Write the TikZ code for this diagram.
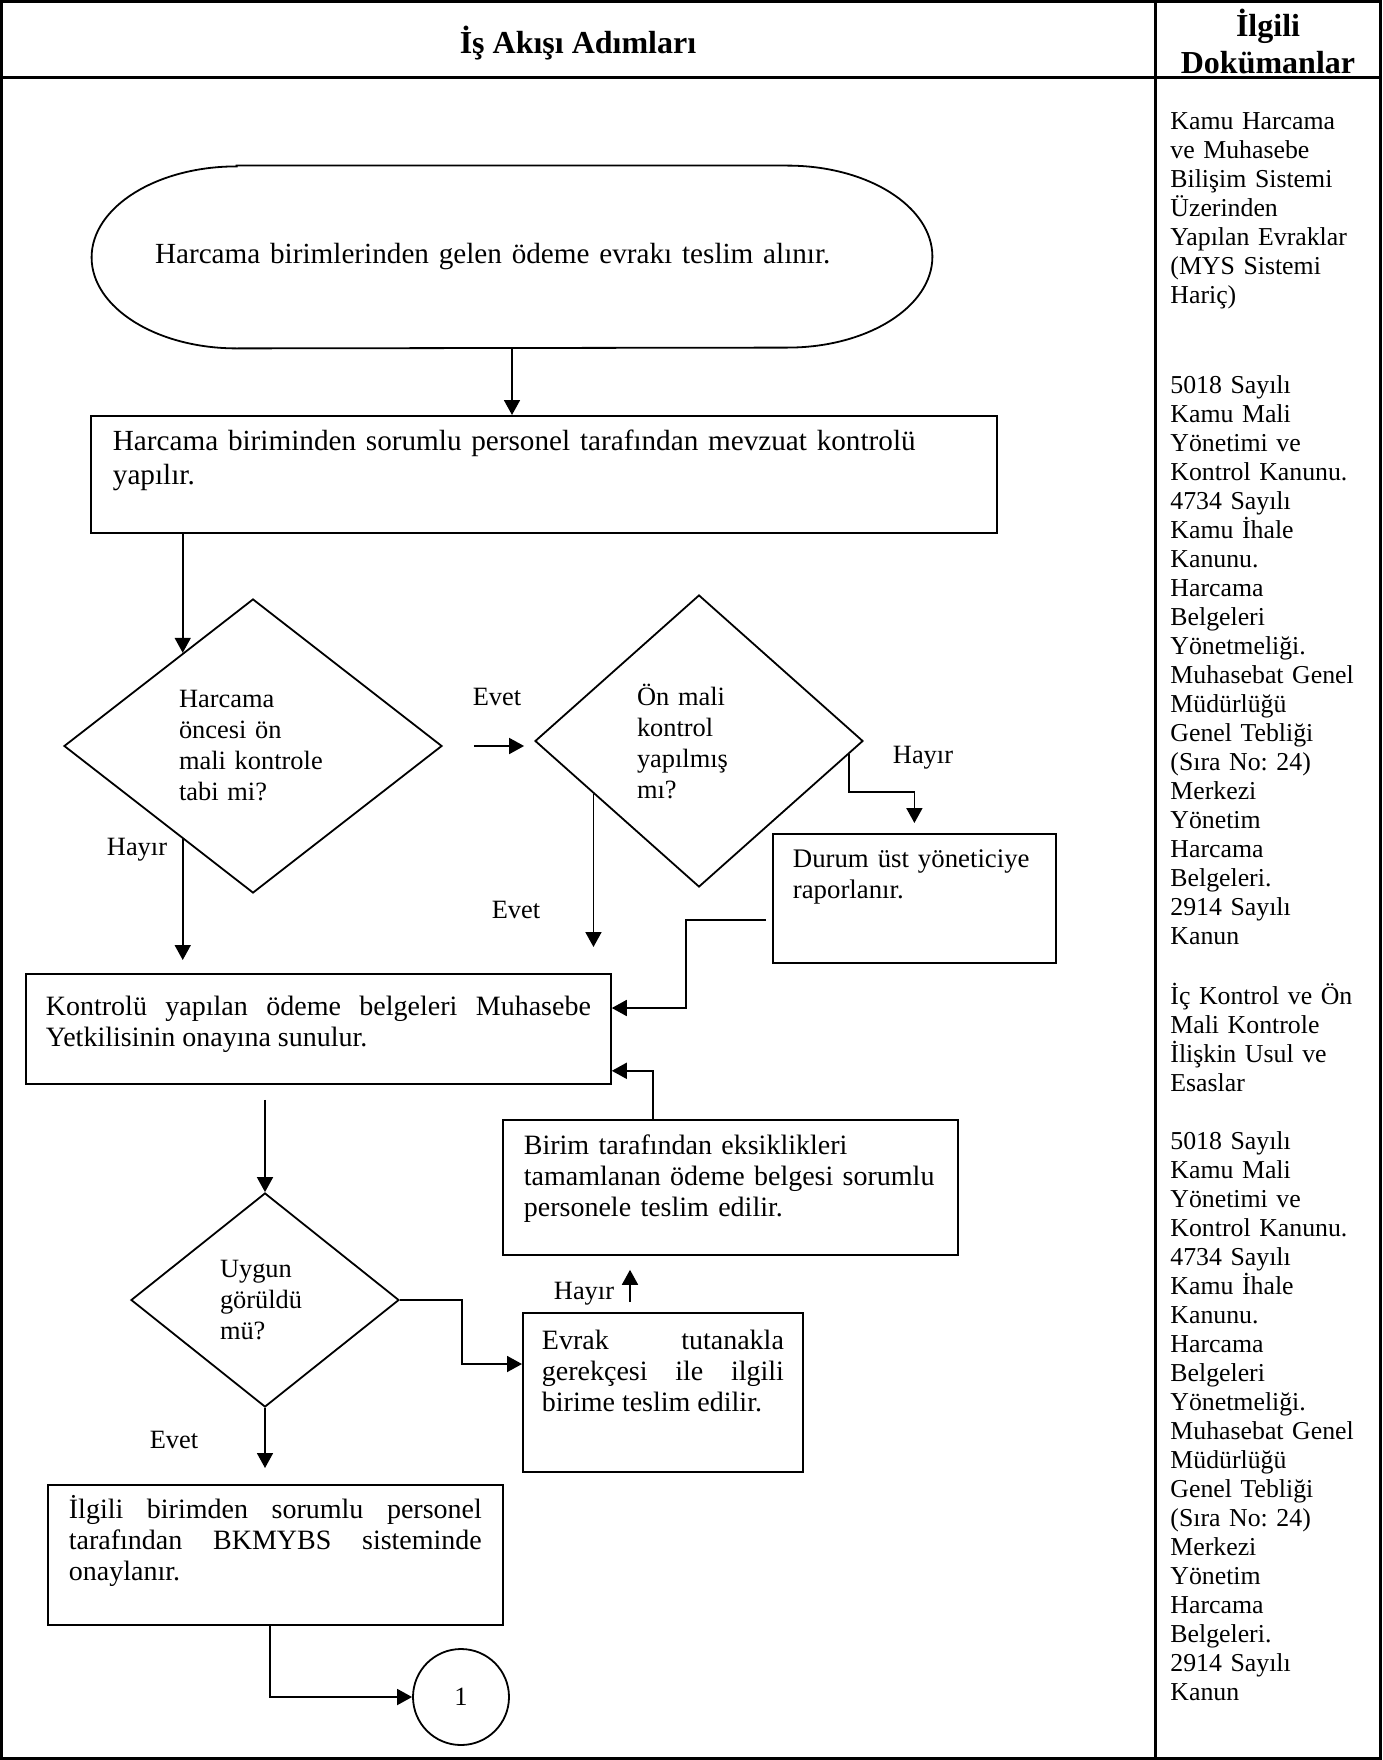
\documentclass[tikz,border=0pt]{standalone}
\usepackage{fontspec}
\setmainfont{Liberation Serif}
\usetikzlibrary{shapes.geometric,arrows.meta,positioning,calc}
\frenchspacing

\begin{document}
\begin{tikzpicture}[x=0.5pt, y=-0.5pt, every node/.style={font=\fontsize{13.2}{15.5}\selectfont},
	kutu/.style={draw, line width=0.9pt, rectangle, anchor=north west, inner xsep=10.5pt, inner ysep=0pt, font=\fontsize{14}{15.5}\selectfont},
	karar/.style={draw, line width=0.9pt, diamond, inner sep=0pt, align=left},
	belge/.style={anchor=base west, inner sep=0pt, text width=104pt, align=left, font=\fontsize{12.9}{14.5}\selectfont},
	ok/.style={line width=0.9pt, -{Triangle[length=7.5pt,width=8pt]}},
	cizgi/.style={line width=0.9pt}]
			\useasboundingbox (0,0) rectangle (1382,1760);
			\draw[line width=1.5pt] (1.5,1.5) rectangle (1380.5,1758.5);
			\draw[line width=1.5pt] (1.5,77.5) -- (1380.5,77.5);
			\draw[line width=1.5pt] (1155,1.5) -- (1155,1758.5);
			
			\node[font=\bfseries\fontsize{16}{18.5}\selectfont] (baslik) at (578,43) {İş Akışı Adımları};
			\node[font=\bfseries\fontsize{16}{18.5}\selectfont, align=center] (belgebaslik) at (1268,41) {İlgili\\Dokümanlar};
			
			% akis
			\node[font=\fontsize{14.6}{16.8}\selectfont, minimum width=420pt, minimum height=91pt, inner sep=0pt, text width=357pt, align=left] (baslangic) at (512,257) {Harcama birimlerinden gelen ödeme evrakı teslim alınır.};
			\draw[cizgi] ([xshift=72.5pt]baslangic.north west) -- ([xshift=-72.5pt]baslangic.north east)
			arc[start angle=90, end angle=-90, x radius=72.5pt, y radius=45.5pt]
			-- ([xshift=72.5pt]baslangic.south west)
			arc[start angle=270, end angle=90, x radius=72.5pt, y radius=45.5pt] -- cycle;
			
			\node[kutu, font=\fontsize{14.6}{16.8}\selectfont, text width=431pt, inner xsep=11pt, text height=17.5pt, text depth=41pt, align=left] (kontrol1) at (90,415) {Harcama biriminden sorumlu personel tarafından mevzuat kontrolü\\yapılır.};
			
			\node[karar, minimum width=189pt, minimum height=147pt, text width=74pt] (kosul1) at (253,746) {Harcama\\öncesi ön\\mali kontrole\\tabi mi?};
			\node[karar, minimum width=164pt, minimum height=146pt, text width=62pt] (kosul2) at (699,741) {Ön mali\\kontrol\\yapılmış\\mı?};
			\node[kutu, font=\fontsize{13.4}{15.5}\selectfont, text width=121.5pt, inner xsep=10pt, text height=17pt, text depth=47.5pt, align=left] (durum) at (772,833) {Durum üst yöneticiye\\raporlanır.};
			
			\node[kutu, text width=272.5pt, inner xsep=10pt, text height=21pt, text depth=34pt, align=justify] (onay) at (25,973) {Kontrolü yapılan ödeme belgeleri Muhasebe\linebreak Yetkilisinin onayına sunulur.};
			\node[kutu, text width=206.5pt, text height=17.5pt, text depth=50pt, align=left] (birim) at (502,1119) {Birim tarafından eksiklikleri\\tamamlanan ödeme belgesi sorumlu\\personele teslim edilir.};
			
			\node[karar, minimum width=134pt, minimum height=107pt, text width=45pt] (kosul3) at (265,1300) {Uygun\\görüldü\\mü?};
			\node[kutu, text width=121pt, inner xsep=9.5pt, text height=18.5pt, text depth=61pt, align=justify] (evrak) at (522,1312) {Evrak tutanakla\linebreak gerekçesi ile ilgili\linebreak birime teslim edilir.};
			\node[kutu, text width=206.5pt, text height=17pt, text depth=53pt, align=justify] (ilgili) at (47,1484) {İlgili birimden sorumlu personel\linebreak tarafından BKMYBS sisteminde\linebreak onaylanır.};
			\node[draw, line width=0.9pt, circle, minimum size=48pt, inner sep=0pt] (daire) at (461,1697) {1};
			
			\node (evet1) at (497,697) {Evet};
			\node (hayir1) at (137,850) {Hayır};
			\node (evet2) at (516,910) {Evet};
			\node (hayir2) at (923,758) {Hayır};
			\node (hayir3) at (584,1294) {Hayır};
			\node (evet3) at (174,1440) {Evet};
			
			% baglantilar
			\draw[ok] (baslangic.south) -- (baslangic.south |- kontrol1.north);
			\coordinate (k1giris) at ($(kosul1.west)!0.63!(kosul1.north)$);
			\draw[ok] (k1giris |- kontrol1.south) -- (k1giris);
			\draw[ok, shorten <=15.5pt, shorten >=5pt] (kosul1.east) -- (kosul1.east -| kosul2.west);
			\coordinate (k1cikis) at ($(kosul1.west)!0.63!(kosul1.south)$);
			\draw[ok, shorten >=6.5pt] (k1cikis) -- (k1cikis |- onay.north);
			\coordinate (k2cikis) at ($(kosul2.west)!0.36!(kosul2.south)$);
			\draw[ok, shorten >=13pt] (k2cikis) -- (k2cikis |- onay.north);
			\coordinate (k2sag) at ($(kosul2.east)!0.09!(kosul2.south)$);
			\draw[ok, shorten >=5pt] (k2sag) -- ++(0,-19pt) -| (durum.north);
			\draw[ok] ([xshift=-3pt,yshift=22pt]durum.south west) -- ++(-40pt,0) |- ([yshift=-17.5pt]onay.north east);
			\draw[ok] ([xshift=75.5pt]birim.north west) |- ([yshift=7pt]onay.south east);
			\draw[ok, shorten <=7.5pt] (kosul3.north |- onay.south) -- (kosul3.north);
			\draw[ok] (kosul3.east) -- ++(31pt,0) |- ([yshift=-26pt]evrak.north west);
			\coordinate (geri) at ([xshift=54pt]evrak.north west);
			\draw[ok, shorten <=5pt, shorten >=7pt] (geri) -- (geri |- birim.south);
			\draw[ok, shorten >=8pt] (kosul3.south) -- (kosul3.south |- ilgili.north);
			\draw[ok] ([xshift=111.5pt]ilgili.south west) |- (daire.west);
			
			% ilgili dokumanlar
			\node[belge] (belge1) at (1170,130) {Kamu Harcama\\ve Muhasebe\\Bilişim Sistemi\\Üzerinden\\Yapılan Evraklar\\(MYS Sistemi\\Hariç)};
			\node[belge] (belge2) at (1170,393) {5018 Sayılı\\Kamu Mali\\Yönetimi ve\\Kontrol Kanunu.\\4734 Sayılı\\Kamu İhale\\Kanunu.\\Harcama\\Belgeleri\\Yönetmeliği.\\Muhasebat Genel\\Müdürlüğü\\Genel Tebliği\\(Sıra No: 24)\\Merkezi\\Yönetim\\Harcama\\Belgeleri.\\2914 Sayılı\\Kanun};
			\node[belge] (belge3) at (1170,1004) {İç Kontrol ve Ön\\Mali Kontrole\\İlişkin Usul ve\\Esaslar};
			\node[belge] (belge4) at (1170,1149) {5018 Sayılı\\Kamu Mali\\Yönetimi ve\\Kontrol Kanunu.\\4734 Sayılı\\Kamu İhale\\Kanunu.\\Harcama\\Belgeleri\\Yönetmeliği.\\Muhasebat Genel\\Müdürlüğü\\Genel Tebliği\\(Sıra No: 24)\\Merkezi\\Yönetim\\Harcama\\Belgeleri.\\2914 Sayılı\\Kanun};
		\end{tikzpicture}
\end{document}
